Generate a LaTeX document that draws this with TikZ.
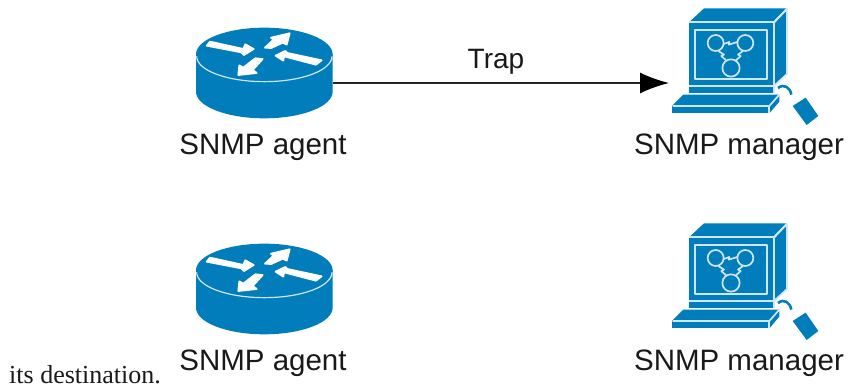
\documentclass[tikz,border=0pt]{standalone}
\usepackage{fontspec}
\setmainfont{Liberation Sans}
\newfontfamily\serifface{Liberation Serif}
\definecolor{ciscoblue}{HTML}{007DBA}
\definecolor{iconline}{HTML}{CFE6F3}
\usetikzlibrary{arrows.meta}
\tikzset{
  labeltext/.style={anchor=base,inner sep=0pt,font=\fontsize{29.5}{32}\selectfont,text=black!90},
  iconbox/.style={inner sep=0pt,outer sep=0pt},
  iconface/.style={fill=ciscoblue,draw=iconline,line width=1.7pt,line join=round},
  iconsolid/.style={fill=ciscoblue,draw=none},
  iconwire/.style={draw=iconline,line width=1.7pt,line join=round,fill=none},
  flow/.style={draw=black!85,line width=1.4pt,-{Latex[length=29pt,width=21pt,inset=7pt,color=black]}},
  whitearrow/.style={fill=white,draw=white,line width=1.8pt,line join=round},
}
% router: origin = top-left of the reference zoom crop, units = 1/3 px
\newcommand{\routericon}[2]{%
\begin{scope}[shift={(#1,#2)},x=0.3333pt,y=-0.3333pt]
  \path[iconsolid] (48,118) -- (48,230) arc[start angle=180,end angle=0,x radius=205,y radius=80] -- (458,118) -- cycle;
  \path[iconsolid] (253,118) ellipse[x radius=205,y radius=80];
  \draw[draw=iconline,line width=1.2pt] (50,124) arc[start angle=180,end angle=0,x radius=203,y radius=76];
  \path[whitearrow] (80,92) -- (90,80) -- (190,102) -- (196,88) -- (221,102) -- (192,120) -- (184,112) -- cycle;
  \path[whitearrow] (255,98) -- (281,74) -- (273,68) -- (329,55) -- (320,89) -- (308,83) -- (274,99) -- cycle;
  \path[whitearrow] (425,136) -- (408,149) -- (312,124) -- (310,137) -- (287,122) -- (316,108) -- (322,114) -- cycle;
  \path[whitearrow] (248,132) -- (218,165) -- (230,174) -- (175,180) -- (178,151) -- (190,158) -- (226,130) -- cycle;
\end{scope}}
% computer: origin = top-left of the reference zoom crop, units = 1/3 px
\newcommand{\managericon}[2]{%
\begin{scope}[shift={(#1,#2)},x=0.3333pt,y=-0.3333pt]
  \path[iconsolid] (162,25) -- (408,25) -- (372,66) -- (118,66) -- cycle;
  \draw[iconface] (372,68) -- (411,27) -- (411,222) -- (372,258) -- cycle;
  \draw[iconwire] (372,66) -- (411,26);
  \path[iconsolid] (118,68) rectangle (372,280);
  \draw[iconwire] (118,67) -- (372,67) -- (372,280);
  \draw[iconwire] (136,89) rectangle (350,238);
  \draw[iconwire] (197,129) circle[radius=24];
  \draw[iconwire] (286,129) circle[radius=24];
  \draw[iconwire] (243,204) circle[radius=26];
  \draw[iconwire] (221,132) -- (238,126) -- (236,134) -- (262,126);
  \draw[iconwire] (205,153) -- (222,164) -- (214,168) -- (228,181);
  \draw[iconwire] (279,153) -- (264,164) -- (272,168) -- (258,181);
  \draw[iconwire] (118,259) -- (372,259);
  \path[iconsolid] (100,284) -- (388,284) -- (358,318) -- (66,318) -- cycle;
  \path[iconsolid] (66,318) rectangle (358,340);
  \path[iconsolid] (358,318) -- (388,288) -- (388,305) -- (358,340) -- cycle;
  \draw[iconwire] (68,318) -- (358,318) -- (388,284);
  \draw[iconwire] (358,318) -- (358,340);
  \draw[draw=ciscoblue,line width=2.6pt] (384,264) .. controls (402,250) and (420,262) .. (424,284);
  \path[iconsolid] (428,318) -- (467,293) -- (505,348) -- (470,375) -- cycle;
\end{scope}}
\begin{document}
\begin{tikzpicture}[x=1pt,y=-1pt]
\useasboundingbox (0,0) rectangle (848,387);
% invisible icon frames, so the connector runs node to node
\node[iconbox,minimum width=136pt,minimum height=70pt] (agentA) at (265,83) {};
\node[iconbox,minimum width=150pt,minimum height=70pt] (managerA) at (744,83) {};
\routericon{180}{15}
\routericon{180}{231}
\managericon{650}{0}
\managericon{650}{215}
\draw[flow] (agentA.east) -- (managerA.west);
\node[labeltext,font=\fontsize{28}{30}\selectfont] (trap) at (496,69) {Trap};
\node[labeltext] (agentAlabel) at (263,155) {SNMP agent};
\node[labeltext] (managerAlabel) at (739,155) {SNMP manager};
\node[labeltext] (agentBlabel) at (263,370) {SNMP agent};
\node[labeltext] (managerBlabel) at (739,370) {SNMP manager};
\node[anchor=base west,inner sep=0pt,font=\serifface\fontsize{26}{28}\selectfont,text=black!90] (caption) at (9,383) {its destination.};
\end{tikzpicture}
\end{document}
